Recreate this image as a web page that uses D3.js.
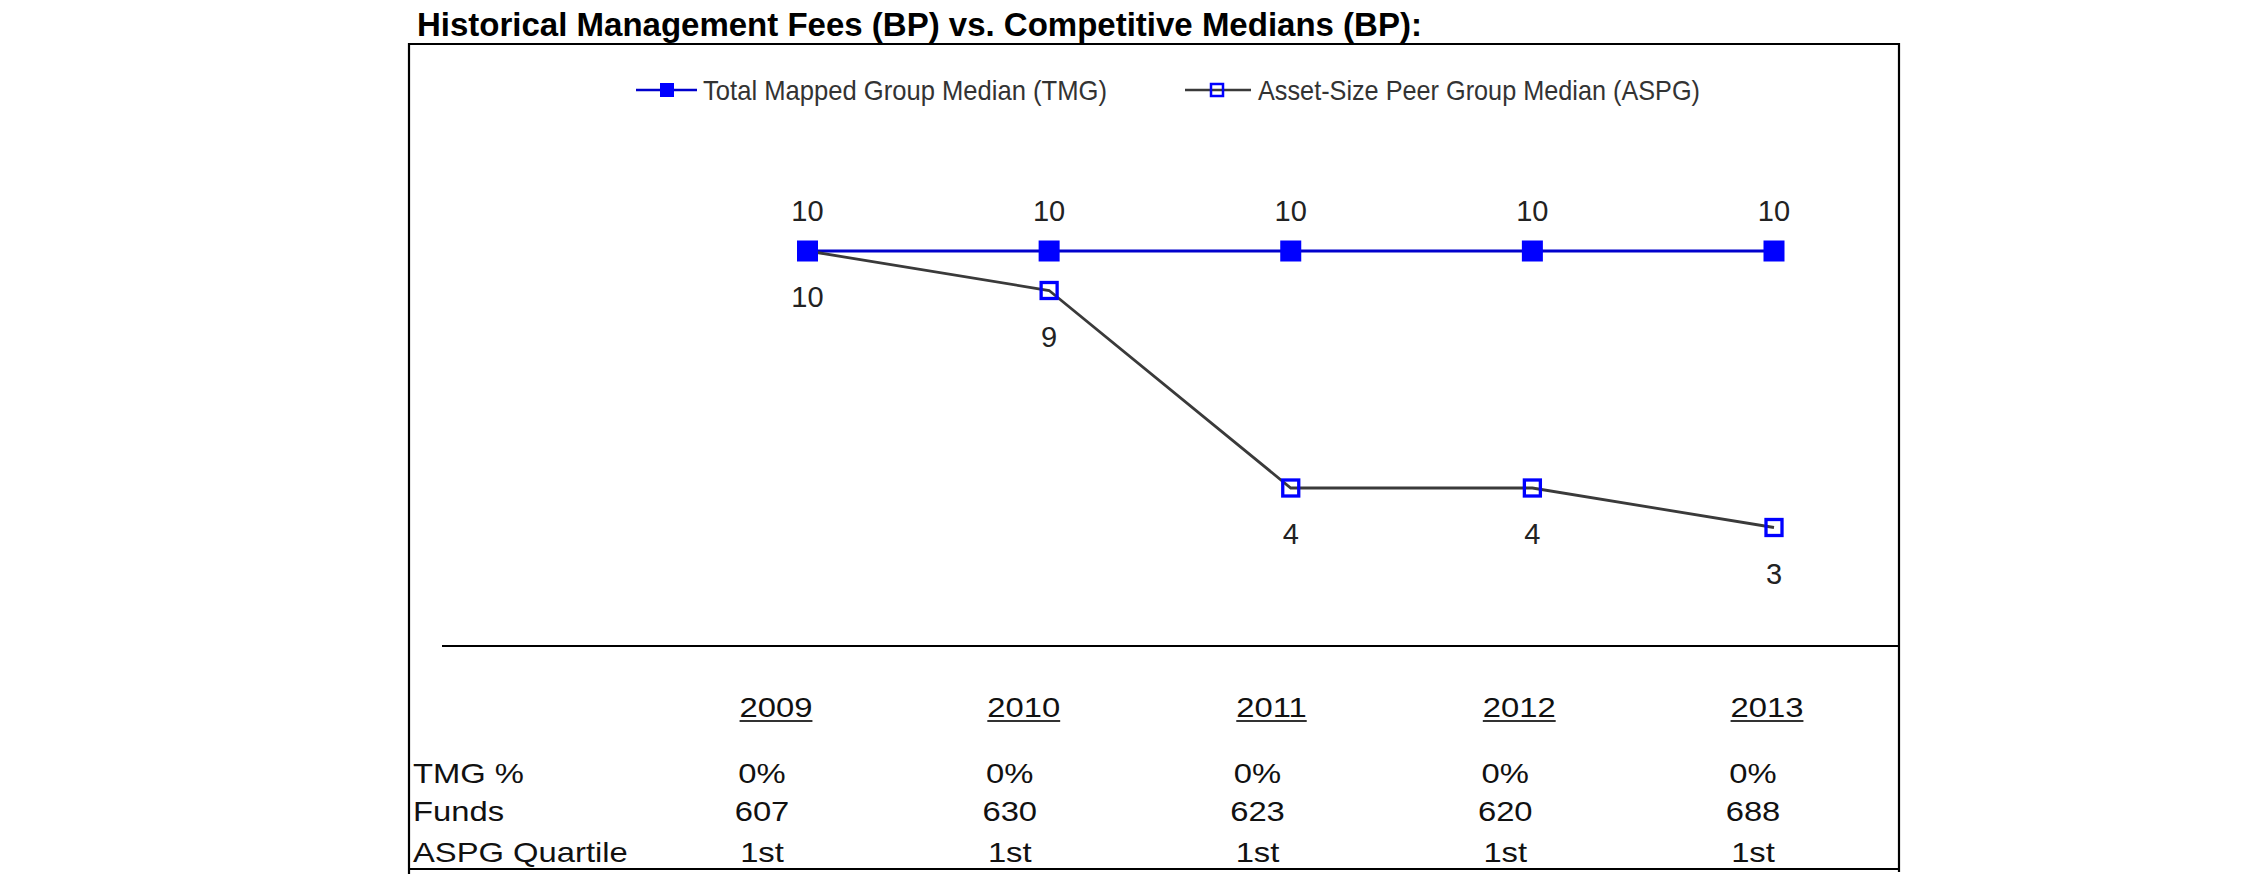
<!DOCTYPE html>
<html>
<head>
<meta charset="utf-8">
<script src="https://cdn.jsdelivr.net/npm/d3@7"></script>
<style>
  html, body { margin: 0; padding: 0; background: #ffffff; }
  svg { display: block; }
</style>
</head>
<body>
<svg id="chart" width="2250" height="895"></svg>
<script>
// ---- data ----
const years = ["2009", "2010", "2011", "2012", "2013"];
const tmgValues = [10, 10, 10, 10, 10];
const aspgValues = [10, 9, 4, 4, 3];
const tmgPct = ["0%", "0%", "0%", "0%", "0%"];
const funds = ["607", "630", "623", "620", "688"];
const quartiles = ["1st", "1st", "1st", "1st", "1st"];
const rowLabels = ["TMG %", "Funds", "ASPG Quartile"];
const seriesNames = ["Total Mapped Group Median (TMG)", "Asset-Size Peer Group Median (ASPG)"];
const titleText = "Historical Management Fees (BP) vs. Competitive Medians (BP):";

// ---- layout ----
const FONT = "Arial, 'Liberation Sans', Helvetica, sans-serif";
const box = { left: 409, right: 1899, top: 44, bottom: 869 };
const svg = d3.select("#chart");

const x = d3.scalePoint().domain(years).range([807.5, 1774]);
const y = d3.scaleLinear().domain([0, 10]).range([646, 251]);
const tx = d3.scalePoint().domain(years).range([762, 1753]);
const STRETCH = 1.17;

// title
svg.append("text")
  .attr("x", 417).attr("y", 36)
  .attr("font-family", FONT).attr("font-weight", "bold").attr("font-size", 33)
  .attr("fill", "#000")
  .text(titleText);

// frame
const frame = svg.append("g").attr("stroke", "#000").attr("stroke-width", 2.2);
frame.append("line").attr("x1", box.left).attr("x2", box.right).attr("y1", box.top).attr("y2", box.top);
frame.append("line").attr("x1", box.left).attr("x2", box.right).attr("y1", box.bottom).attr("y2", box.bottom);
frame.append("line").attr("x1", box.left).attr("x2", box.left).attr("y1", box.top - 1).attr("y2", box.bottom + 5);
frame.append("line").attr("x1", box.right).attr("x2", box.right).attr("y1", box.top - 1).attr("y2", box.bottom + 3);

// axis separator line at value 0
svg.append("line")
  .attr("x1", 442).attr("x2", box.right)
  .attr("y1", y(0)).attr("y2", y(0))
  .attr("stroke", "#000").attr("stroke-width", 2.2);

// legend
const legendY = 90;
const leg = svg.append("g");
leg.append("line").attr("x1", 636).attr("x2", 697).attr("y1", legendY).attr("y2", legendY)
  .attr("stroke", "#0000cc").attr("stroke-width", 2.5);
leg.append("rect").attr("x", 667 - 7).attr("y", legendY - 7).attr("width", 14).attr("height", 14)
  .attr("fill", "#0000ff");
leg.append("text").attr("x", 703).attr("y", legendY + 10)
  .attr("font-family", FONT).attr("font-size", 28).attr("fill", "#333")
  .attr("textLength", 404).attr("lengthAdjust", "spacingAndGlyphs")
  .text(seriesNames[0]);
leg.append("line").attr("x1", 1185).attr("x2", 1251).attr("y1", legendY).attr("y2", legendY)
  .attr("stroke", "#3a3a3a").attr("stroke-width", 2.5);
leg.append("rect").attr("x", 1217 - 6).attr("y", legendY - 6).attr("width", 12).attr("height", 12)
  .attr("fill", "none").attr("stroke", "#0000ff").attr("stroke-width", 2.5);
leg.append("text").attr("x", 1258).attr("y", legendY + 10)
  .attr("font-family", FONT).attr("font-size", 28).attr("fill", "#333")
  .attr("textLength", 442).attr("lengthAdjust", "spacingAndGlyphs")
  .text(seriesNames[1]);

// series
const tmgData = years.map((yr, i) => ({ year: yr, v: tmgValues[i] }));
const aspgData = years.map((yr, i) => ({ year: yr, v: aspgValues[i] }));
const line = d3.line().x(d => x(d.year)).y(d => y(d.v));

svg.append("path").datum(tmgData).attr("d", line)
  .attr("fill", "none").attr("stroke", "#0000cc").attr("stroke-width", 2.8);
svg.append("path").datum(aspgData).attr("d", line)
  .attr("fill", "none").attr("stroke", "#3a3a3a").attr("stroke-width", 2.8);

svg.append("g").selectAll("rect").data(tmgData).join("rect")
  .attr("x", d => x(d.year) - 10.5).attr("y", d => y(d.v) - 10.5)
  .attr("width", 21).attr("height", 21).attr("fill", "#0000ff");

svg.append("g").selectAll("rect").data(aspgData.slice(1)).join("rect")
  .attr("x", d => x(d.year) - 8).attr("y", d => y(d.v) - 8)
  .attr("width", 16).attr("height", 16)
  .attr("fill", "none").attr("stroke", "#0000ff").attr("stroke-width", 3.3);

// data labels
svg.append("g").selectAll("text").data(tmgData).join("text")
  .attr("x", d => x(d.year)).attr("y", d => y(d.v) - 30)
  .attr("text-anchor", "middle")
  .attr("font-family", FONT).attr("font-size", 29).attr("fill", "#222")
  .text(d => d.v);
svg.append("g").selectAll("text").data(aspgData).join("text")
  .attr("x", d => x(d.year)).attr("y", d => y(d.v) + 56)
  .attr("text-anchor", "middle")
  .attr("font-family", FONT).attr("font-size", 29).attr("fill", "#222")
  .text(d => d.v);

// helper: horizontally stretched table text anchored at (px, py)
function tableText(parent, px, py, str, anchor) {
  return parent.append("text")
    .attr("transform", `translate(${px},${py}) scale(${STRETCH},1)`)
    .attr("text-anchor", anchor)
    .attr("font-family", FONT).attr("font-size", 28).attr("fill", "#111")
    .text(str);
}

// table: year headers (underlined)
const hdrG = svg.append("g");
years.forEach(yr => {
  const cx = tx(yr) + 14;
  const t = tableText(hdrG, cx, 717, yr, "middle");
  const w = t.node().getComputedTextLength() * STRETCH;
  hdrG.append("line")
    .attr("x1", cx - w / 2).attr("x2", cx + w / 2)
    .attr("y1", 721).attr("y2", 721)
    .attr("stroke", "#333").attr("stroke-width", 2.2);
});

// table rows
const rows = [tmgPct, funds, quartiles];
const rowY = [783, 821, 862];
const tbl = svg.append("g");
rows.forEach((vals, r) => {
  tableText(tbl, 413, rowY[r], rowLabels[r], "start");
  vals.forEach((v, i) => tableText(tbl, tx(years[i]), rowY[r], v, "middle"));
});
</script>
</body>
</html>
